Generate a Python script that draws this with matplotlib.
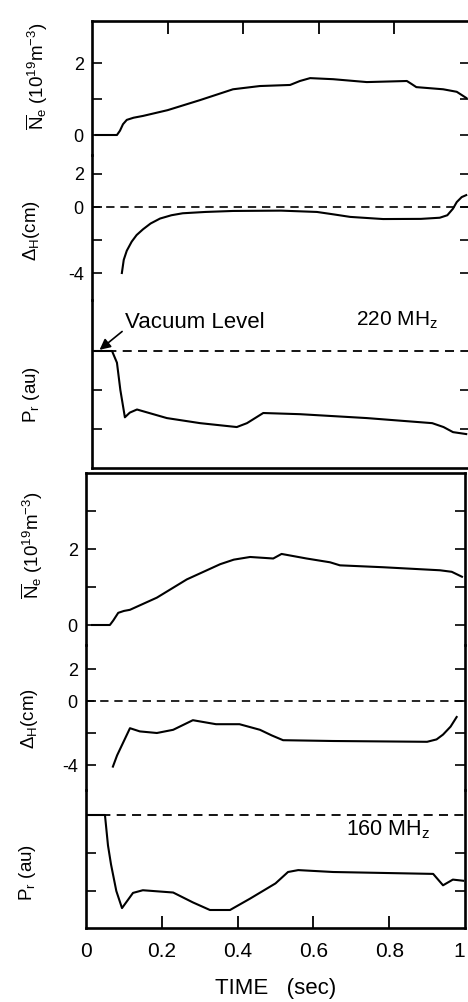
import matplotlib
matplotlib.use("Agg")
import matplotlib.pyplot as plt

plt.rcParams['font.family'] = ['Liberation Sans', 'DejaVu Sans']
plt.rcParams['mathtext.fontset'] = 'custom'
plt.rcParams['mathtext.rm'] = 'Liberation Sans'
plt.rcParams['mathtext.it'] = 'Liberation Sans'

# ---------------- data: 220 MHz (upper panel) ----------------
t_ne_220 = [0.01, 0.066, 0.074, 0.082, 0.092, 0.11, 0.135, 0.2, 0.286, 0.373, 0.444, 0.524, 0.55, 0.577, 0.638, 0.727, 0.833, 0.845, 0.858, 0.929, 0.965, 0.99]
ne_220 = [0.0, 0.0, 0.12, 0.3, 0.42, 0.48, 0.53, 0.69, 0.97, 1.27, 1.36, 1.39, 1.5, 1.58, 1.55, 1.47, 1.5, 1.42, 1.33, 1.27, 1.2, 1.03]

t_dh_220 = [0.079, 0.084, 0.092, 0.105, 0.118, 0.135, 0.155, 0.18, 0.21, 0.24, 0.3, 0.373, 0.5, 0.595, 0.64, 0.683, 0.77, 0.87, 0.92, 0.94, 0.955, 0.965, 0.978, 0.99]
dh_220 = [-4.0, -3.2, -2.65, -2.1, -1.7, -1.35, -1.0, -0.7, -0.5, -0.38, -0.3, -0.24, -0.22, -0.3, -0.45, -0.6, -0.73, -0.72, -0.65, -0.5, -0.1, 0.3, 0.6, 0.72]

t_pr_220 = [0.008, 0.053, 0.066, 0.075, 0.087, 0.1, 0.119, 0.198, 0.286, 0.383, 0.41, 0.453, 0.55, 0.727, 0.9, 0.93, 0.955, 0.99]
pr_220 = [0.0, 0.0, -0.3, -1.0, -1.7, -1.58, -1.5, -1.72, -1.85, -1.95, -1.85, -1.59, -1.62, -1.72, -1.85, -1.95, -2.08, -2.13]

# ---------------- data: 160 MHz (lower panel) ----------------
t_ne_160 = [0.016, 0.063, 0.072, 0.085, 0.1, 0.116, 0.187, 0.266, 0.354, 0.39, 0.433, 0.494, 0.516, 0.582, 0.644, 0.67, 0.784, 0.934, 0.965, 0.992]
ne_160 = [0.0, 0.0, 0.12, 0.32, 0.37, 0.4, 0.72, 1.2, 1.6, 1.72, 1.79, 1.75, 1.87, 1.75, 1.65, 1.57, 1.52, 1.44, 1.4, 1.27]

t_dh_160 = [0.071, 0.082, 0.098, 0.116, 0.142, 0.187, 0.23, 0.282, 0.343, 0.405, 0.459, 0.49, 0.52, 0.652, 0.9, 0.925, 0.942, 0.962, 0.978]
dh_160 = [-4.1, -3.4, -2.6, -1.7, -1.9, -2.0, -1.8, -1.2, -1.45, -1.45, -1.8, -2.15, -2.45, -2.5, -2.55, -2.4, -2.1, -1.6, -1.0]

t_pr_160 = [0.0, 0.05, 0.052, 0.058, 0.066, 0.08, 0.095, 0.124, 0.15, 0.23, 0.282, 0.327, 0.38, 0.433, 0.5, 0.533, 0.56, 0.652, 0.916, 0.942, 0.968, 0.995]
pr_160 = [0.0, 0.0, -0.2, -0.8, -1.3, -2.0, -2.45, -2.05, -1.98, -2.04, -2.3, -2.5, -2.5, -2.2, -1.8, -1.5, -1.45, -1.5, -1.55, -1.85, -1.7, -1.73]

x_ticks = [0, 0.2, 0.4, 0.6, 0.8, 1.0]
x_tick_labels = ['0', '0.2', '0.4', '0.6', '0.8', '1']

W, H = 468, 1002
fig = plt.figure(figsize=(W / 100, H / 100), dpi=100)


def rect(x0, y0, x1, y1):
    return [x0 / W, 1 - y1 / H, (x1 - x0) / W, (y1 - y0) / H]


def lims(ytop, ybot, ref_px, ppu, ref_val=0.0):
    return (ref_val - (ybot - ref_px) / ppu, ref_val + (ref_px - ytop) / ppu)


LW_SP = 1.9
LW_C = 1.5
DASH = (0, (5, 3.5))


def make_panel(x0, x1, rows):
    axes = []
    for i, (ytop, ybot, ref_px, ppu) in enumerate(rows):
        ax = fig.add_axes(rect(x0, ytop, x1, ybot))
        ax.set_xlim(0, 1)
        ax.set_ylim(*lims(ytop, ybot, ref_px, ppu))
        ax.patch.set_alpha(0)
        for s in ax.spines.values():
            s.set_linewidth(LW_SP)
        ax.spines['top'].set_visible(i == 0)
        ax.spines['bottom'].set_visible(i == len(rows) - 1)
        ax.tick_params(axis='y', direction='in', left=True, right=True,
                       length=7, width=1.2, labelsize=13, pad=6)
        ax.tick_params(axis='x', direction='in', bottom=False, top=False,
                       labelbottom=False, length=9, width=1.3)
        axes.append(ax)
    return axes


# ---------------- upper panel (220 MHz) ----------------
up = make_panel(92, 470, [(21, 155, 135, 36), (155, 300, 207, 16.5), (300, 468, 351, 39)])
a_ne, a_dh, a_pr = up
a_ne.plot(t_ne_220, ne_220, color='black', lw=LW_C)
a_ne.set_yticks([0, 1, 2], ['0', '', '2'])
a_ne.set_xticks([0.2, 0.4, 0.6, 0.8])
a_ne.tick_params(axis='x', top=True)

a_dh.plot(t_dh_220, dh_220, color='black', lw=LW_C)
a_dh.axhline(0, color='black', lw=1.2, ls=DASH)
a_dh.set_yticks([-4, -2, 0, 2], ['-4', '', '0', '2'])

a_pr.plot(t_pr_220, pr_220, color='black', lw=LW_C)
a_pr.axhline(0, color='black', lw=1.3, ls=DASH)
a_pr.set_yticks([-1, -2], ['', ''])
a_pr.annotate('Vacuum Level', xy=(0.02, 0.03), xytext=(0.087, 0.72),
              fontsize=16, va='center', ha='left',
              arrowprops=dict(arrowstyle='-|>', color='black', lw=1.2,
                              shrinkA=0, shrinkB=0, relpos=(0.0, 0.2)))
a_pr.text(0.807, 0.79, r'220 MH$_{\mathrm{z}}$', fontsize=15, ha='center', va='center')

# ---------------- lower panel (160 MHz) ----------------
lo = make_panel(86, 465, [(473, 645, 625, 38), (645, 790, 701, 16), (790, 928, 815, 38)])
b_ne, b_dh, b_pr = lo
b_ne.plot(t_ne_160, ne_160, color='black', lw=LW_C)
b_ne.set_yticks([0, 1, 2, 3], ['0', '', '2', ''])

b_dh.plot(t_dh_160, dh_160, color='black', lw=LW_C)
b_dh.axhline(0, color='black', lw=1.2, ls=DASH)
b_dh.set_yticks([-4, -2, 0, 2], ['-4', '', '0', '2'])

b_pr.plot(t_pr_160, pr_160, color='black', lw=LW_C)
b_pr.axhline(0, color='black', lw=1.3, ls=DASH)
b_pr.set_yticks([-1, -2], ['', ''])
b_pr.text(0.797, -0.39, r'160 MH$_{\mathrm{z}}$', fontsize=15.5, ha='center', va='center')
b_pr.set_xticks(x_ticks, x_tick_labels)
b_pr.tick_params(axis='x', bottom=True, labelbottom=True, labelsize=15, pad=10)
for tk, v in zip(b_pr.xaxis.get_major_ticks(), x_ticks):
    if v in (0, 1.0):
        tk.tick1line.set_visible(False)
    if v == 1.0:
        tk.label1.set_horizontalalignment('right')
b_pr.set_xlabel('TIME   (sec)', fontsize=16, labelpad=12)

# ---------------- y labels ----------------
def ylab(x, y, s, size=13.5):
    fig.text(x / W, 1 - y / H, s, rotation=90, ha='center', va='center', fontsize=size)

ne_lab = r'$\overline{\mathrm{N}}_{\mathrm{e}}$ (10$^{19}$m$^{-3}$)'
dh_lab = r'$\Delta_{\mathrm{H}}$(cm)'
pr_lab = r'P$_{\mathrm{r}}$ (au)'

ylab(37, 76, ne_lab)
ylab(32, 230, dh_lab)
ylab(32, 395, pr_lab)
ylab(32, 545, ne_lab)
ylab(29, 718, dh_lab)
ylab(28, 873, pr_lab)

fig.savefig('out.png', dpi=100)
